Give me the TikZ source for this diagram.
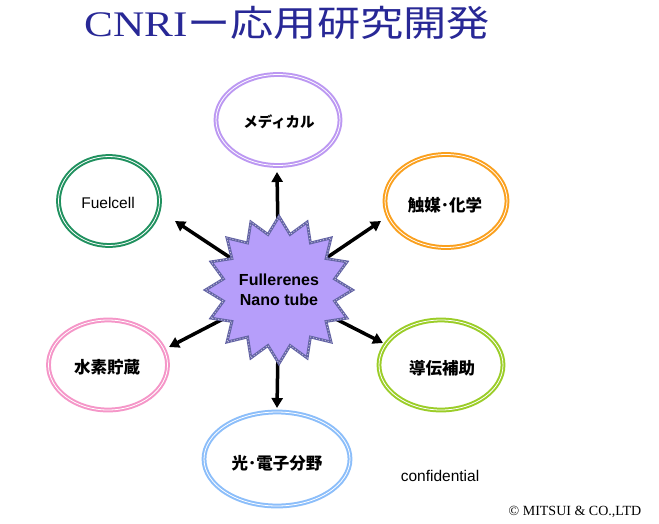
\documentclass[tikz,border=0pt]{standalone}
\usepackage{fontspec}
\setmainfont{Liberation Sans}
\newfontfamily\serif{Liberation Serif}
\newfontfamily\cjk{Noto Sans CJK JP}
\usetikzlibrary{shapes.geometric,arrows.meta}
\definecolor{titleblue}{RGB}{40,40,150}
\definecolor{cMed}{RGB}{188,152,242}
\definecolor{cFuel}{RGB}{32,145,95}
\definecolor{cCat}{RGB}{250,160,30}
\definecolor{cCond}{RGB}{155,205,40}
\definecolor{cHyd}{RGB}{245,150,200}
\definecolor{cOpt}{RGB}{140,190,250}
\definecolor{starfill}{RGB}{182,158,250}
\definecolor{staredge}{RGB}{100,100,165}
\tikzset{
  ell/.style={ellipse, draw=#1, line width=2pt, double=white, double distance=0.8pt, inner sep=0pt},
  jlabel/.style={font=\cjk\bfseries\fontsize{16.5}{19}\selectfont},
  arr/.style={line width=3.5pt, -{Triangle[length=10pt,width=11pt]}},
}
\begin{document}
\begin{tikzpicture}[x=1pt,y=-1pt]
\useasboundingbox[fill=white] (0,0) rectangle (659,523);
% title
\node[anchor=base west, inner sep=0pt, text=titleblue] (title) at (84,36)
  {\scalebox{1.2}[1]{\fontsize{36}{40}\selectfont\serif CNRI\cjk ー応用研究開発}};
% ellipses
\node[ell=cMed, minimum width=124pt, minimum height=91pt] (med) at (278,120) {};
\node[jlabel, font=\cjk\bfseries\fontsize{14.5}{17}\selectfont] (medt) at (279,122) {メディカル};
\node[ell=cFuel, minimum width=101pt, minimum height=89pt] (fuel) at (109,201) {};
\node[font=\fontsize{15.5}{18}\selectfont] (fuelt) at (108,203) {Fuelcell};
\node[ell=cCat, minimum width=122pt, minimum height=93pt] (cat) at (446,201) {};
\node[jlabel] (catt) at (445,205) {触媒･化学};
\node[ell=cCond, minimum width=124pt, minimum height=90pt] (cond) at (441,365) {};
\node[jlabel] (condt) at (442,368) {導伝補助};
\node[ell=cHyd, minimum width=119pt, minimum height=90pt] (hyd) at (108,365) {};
\node[jlabel] (hydt) at (107,367) {水素貯蔵};
\node[ell=cOpt, minimum width=146pt, minimum height=94pt] (opt) at (277,459) {};
\node[jlabel] (optt) at (277,463) {光･電子分野};
% arrow tips
\coordinate (c0) at (279,290);
\coordinate (tU) at (277,172);
\coordinate (tF) at (175,221);
\coordinate (tC) at (381,221);
\coordinate (tS) at (169,347);
\coordinate (tD) at (383,343);
\coordinate (tB) at (277,408);
\draw[arr] (c0) -- (tU);
\draw[arr] (c0) -- (tF);
\draw[arr] (c0) -- (tC);
\draw[arr] (c0) -- (tS);
\draw[arr] (c0) -- (tD);
\draw[arr] (c0) -- (tB);
% star
\node[star, star points=16, star point ratio=1.3, minimum size=144pt, inner sep=0pt,
  fill=starfill, draw=staredge, line width=2.8pt,
  postaction={draw=staredge!40!white, line width=0.9pt, dash pattern=on 1pt off 2pt},
  align=center, font=\bfseries\fontsize{16}{19.5}\selectfont] (star) at (c0) {Fullerenes\\Nano tube};
% footer
\node[font=\fontsize{15.5}{18}\selectfont] (conf) at (440,476) {confidential};
\node[font=\serif\fontsize{14}{16}\selectfont] (copy) at (575,512) {© MITSUI \& CO.,LTD};
\end{tikzpicture}
\end{document}
